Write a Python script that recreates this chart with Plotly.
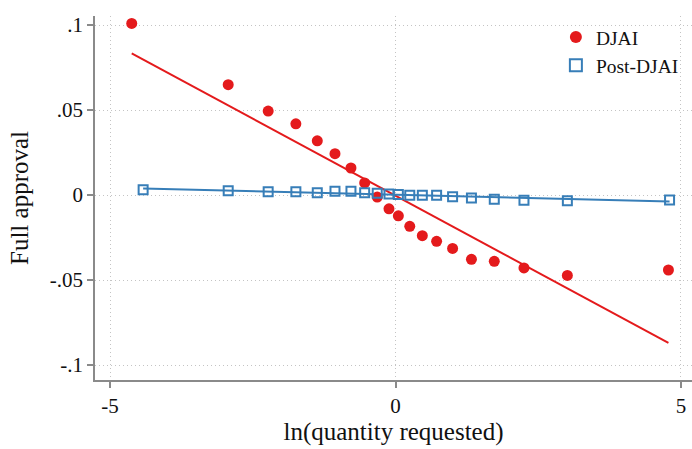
import plotly.graph_objects as go

# ---- data (binned scatter) ----
djai_x = [-4.62, -2.93, -2.23, -1.745, -1.37, -1.06, -0.78, -0.54, -0.32, -0.114, 0.05,
          0.25, 0.47, 0.72, 1.0, 1.33, 1.73, 2.25, 3.01, 4.78]
djai_y = [0.1009, 0.0649, 0.0494, 0.0419, 0.0319, 0.0243, 0.0159, 0.0071, -0.0012, -0.0081, -0.0122,
          -0.0184, -0.0239, -0.0272, -0.0314, -0.0378, -0.0390, -0.0429, -0.0473, -0.0441]

post_x = [-4.42, -2.93, -2.23, -1.745, -1.37, -1.06, -0.78, -0.54, -0.32, -0.114, 0.05,
          0.25, 0.47, 0.72, 1.0, 1.33, 1.73, 2.25, 3.01, 4.80]
post_y = [0.0031, 0.0025, 0.0019, 0.0019, 0.0014, 0.0022, 0.0022, 0.0014, 0.0010, 0.0006, 0.0003,
          -0.0002, -0.0002, -0.0002, -0.0010, -0.0018, -0.0025, -0.0031, -0.0033, -0.0029]

# linear fit coefficients (intercept, slope)
djai_fit = (-0.0004, -0.01811)
post_fit = (0.0002, -0.00083)

x_ticks = [-5, 0, 5]
y_ticks = [0.1, 0.05, 0, -0.05, -0.1]
y_ticklabels = [".1", ".05", "0", "-.05", "-.1"]

RED = "#e41a1c"
BLUE = "#377eb8"
FONT = "Liberation Serif"


def fit_line(xs, coef):
    x0, x1 = min(xs), max(xs)
    return [x0, x1], [coef[0] + coef[1] * x0, coef[0] + coef[1] * x1]


fig = go.Figure()

fx, fy = fit_line(djai_x, djai_fit)
fig.add_trace(go.Scatter(x=fx, y=fy, mode="lines", line=dict(color=RED, width=2),
                         showlegend=False, hoverinfo="skip"))
px_, py_ = fit_line(post_x, post_fit)
fig.add_trace(go.Scatter(x=px_, y=py_, mode="lines", line=dict(color=BLUE, width=2),
                         showlegend=False, hoverinfo="skip"))

fig.add_trace(go.Scatter(x=djai_x, y=djai_y, mode="markers", name="DJAI",
                         marker=dict(symbol="circle", color=RED, size=11, line=dict(width=0))))
fig.add_trace(go.Scatter(x=post_x, y=post_y, mode="markers", name="Post-DJAI",
                         marker=dict(symbol="square-open", color=BLUE, size=9,
                                     line=dict(width=2, color=BLUE))))

axis_common = dict(
    showline=True, linecolor="#8a8a8a", linewidth=1.5,
    ticks="outside", ticklen=6, tickcolor="#8a8a8a", tickwidth=1.5,
    showgrid=True, gridcolor="#c4c4c4", griddash="1px,3px", gridwidth=1,
    zeroline=False, mirror=False,
    tickfont=dict(family=FONT, size=21, color="#111"),
)

fig.update_layout(
    width=692, height=449,
    margin=dict(l=95, r=0, t=16, b=69),
    paper_bgcolor="white", plot_bgcolor="white",
    font=dict(family=FONT, color="#111"),
    xaxis=dict(axis_common, range=[-5.263, 5.193], tickvals=x_ticks,
               ticktext=[str(v) for v in x_ticks],
               title=dict(text="ln(quantity requested)", font=dict(family=FONT, size=25), standoff=6)),
    yaxis=dict(axis_common, range=[-0.1088, 0.1053], tickvals=y_ticks, ticktext=y_ticklabels,
               title=dict(text="Full approval", font=dict(family=FONT, size=25), standoff=14)),
    legend=dict(x=0.772, y=0.995, xanchor="left", yanchor="top",
                font=dict(family=FONT, size=19.5), bgcolor="rgba(0,0,0,0)",
                itemsizing="constant", tracegroupgap=2),
)

fig.write_html("out.html", config={"displayModeBar": False},
               post_script="document.body.style.margin='0';")
